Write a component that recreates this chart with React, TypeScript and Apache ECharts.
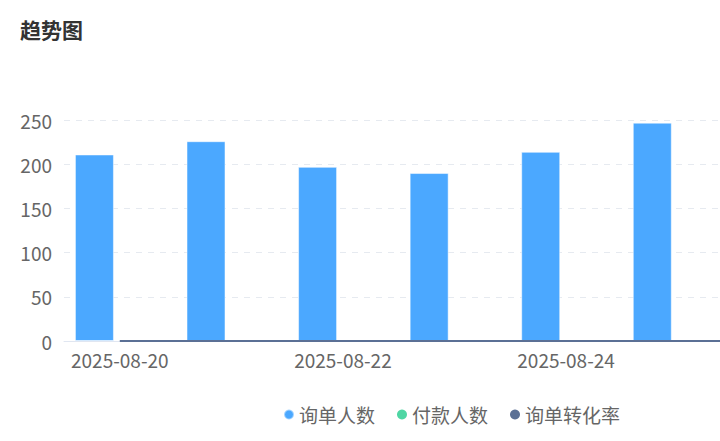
import React, { useEffect, useRef } from "react";
import * as echarts from "echarts";

const categories = ["2025-08-20", "2025-08-21", "2025-08-22", "2025-08-23", "2025-08-24", "2025-08-25", "2025-08-26"];
const inquiryCounts = [211, 226, 197, 190, 214, 247, 230];
const paidCounts = [0, 0, 0, 0, 0, 0, 0];
const conversionRates = [0, 0, 0, 0, 0, 0, 0];
const seriesNames = ["询单人数", "付款人数", "询单转化率"];
const titleText = "趋势图";

const FONT = "'Noto Sans CJK SC', 'Microsoft YaHei', sans-serif";

export default function App() {
  const ref = useRef<HTMLDivElement>(null);
  useEffect(() => {
    if (!ref.current) return;
    const chart = echarts.init(ref.current, undefined, { renderer: "svg" });
    chart.setOption({
      animation: false,
      textStyle: { fontFamily: FONT },
      color: ["#4BA8FF", "#4FD6A4", "#5B7095"],
      title: {
        text: titleText,
        left: 15,
        top: 13,
        textStyle: { fontSize: 21, fontWeight: "bold", color: "#333", fontFamily: FONT },
      },
      legend: {
        data: seriesNames,
        left: "center",
        top: 400,
        icon: "circle",
        itemWidth: 10,
        itemHeight: 10,
        itemGap: 22,
        textStyle: { fontSize: 19, color: "#666", fontFamily: FONT },
      },
      grid: { left: 64, right: 58, top: 120, bottom: 100 },
      xAxis: {
        type: "category",
        data: categories,
        axisTick: { show: false },
        axisLine: { lineStyle: { color: "#E0E6F1" } },
        axisLabel: {
          fontSize: 19,
          color: "#666",
          margin: 9,
          interval: (i: number) => i % 2 === 0 && i < 6,
          fontFamily: FONT,
        },
      },
      yAxis: [
        {
          type: "value",
          min: 0,
          max: 250,
          interval: 50,
          axisLabel: { fontSize: 19, color: "#666", margin: 12, fontFamily: FONT },
          splitLine: { lineStyle: { type: [6, 6], color: "#E6EAF0" } },
        },
        {
          type: "value",
          min: 0,
          max: 1,
          show: false,
          splitLine: { show: false },
        },
      ],
      series: [
        {
          name: seriesNames[0],
          type: "bar",
          data: inquiryCounts,
          barWidth: 39,
          barGap: "30%",
          itemStyle: { borderColor: "rgba(255,255,255,0.5)", borderWidth: 1 },
        },
        {
          name: seriesNames[1],
          type: "bar",
          data: paidCounts,
          barWidth: 39,
          barGap: "30%",
        },
        {
          name: seriesNames[2],
          type: "line",
          yAxisIndex: 1,
          data: conversionRates,
          showSymbol: false,
          lineStyle: { width: 2, color: "#5B7095" },
        },
      ],
    });
    return () => chart.dispose();
  }, []);
  return (
    <div style={{ position: "fixed", left: 0, top: 0, width: 720, height: 441, overflow: "hidden", background: "#fff" }}>
      <div ref={ref} style={{ width: 903, height: 441 }} />
    </div>
  );
}
